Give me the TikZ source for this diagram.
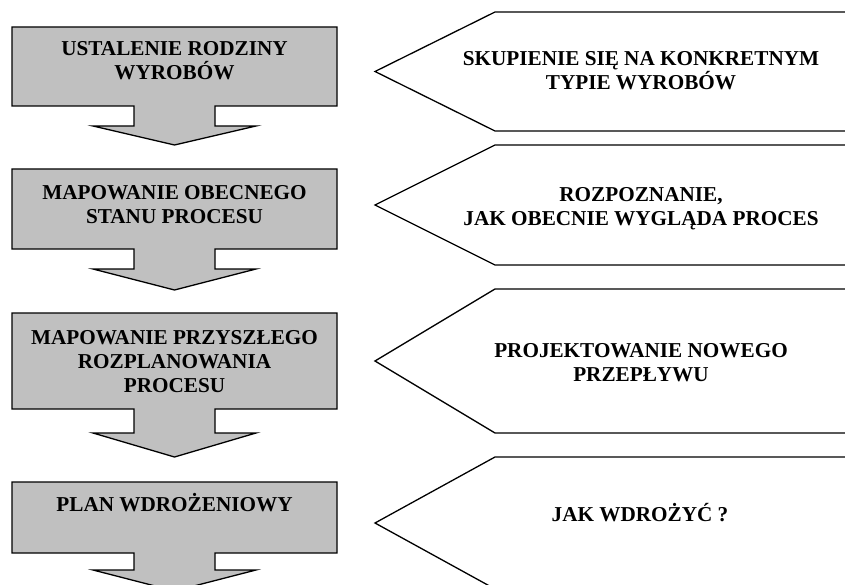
\documentclass[tikz,border=0pt]{standalone}
\usepackage{fontspec}
\setmainfont{Liberation Serif}
\definecolor{boxgray}{RGB}{192,192,192}
\newcommand\stacklines[1]{\vtop{\baselineskip=24pt\lineskiplimit=-100pt\halign{\hfil##\hfil\cr#1\crcr}}}
\begin{document}
\begin{tikzpicture}[x=1pt,y=-1pt,
  stepshape/.style={draw=black, fill=boxgray, line width=1.3pt, line join=miter},
  tagshape/.style={draw=black, fill=white, line width=1.3pt, line join=miter},
  lbl/.style={anchor=base, inner sep=0pt, font=\fontsize{21.2}{24}\selectfont\bfseries}]
\useasboundingbox (0,0) rectangle (845,585);
\clip (0,0) rectangle (845,585);
% left step boxes with down arrows
\foreach \T/\B/\S/\H in {27/106/126/145, 169/249/269/290, 313/409/433/457, 482/553/570/591}{
  \draw[stepshape] (12,\T) -- (337,\T) -- (337,\B) -- (215,\B) -- (215,\S) -- (256,\S)
    -- (174.5,\H) -- (93,\S) -- (134,\S) -- (134,\B) -- (12,\B) -- cycle;
}
% right pointers
\foreach \Tp/\M/\Bt in {12/71.5/131, 145/205/265, 289/361/433, 457/523/589}{
  \draw[tagshape] (375,\M) -- (495,\Tp) -- (900,\Tp) -- (900,\Bt) -- (495,\Bt) -- cycle;
}
% texts in step boxes
\node[lbl] (s1) at (174.5,56) {\stacklines{USTALENIE RODZINY\cr WYROBÓW}};
\node[lbl] (s2) at (174.5,200) {\stacklines{MAPOWANIE OBECNEGO\cr STANU PROCESU}};
\node[lbl] (s3) at (174.5,344) {\stacklines{MAPOWANIE PRZYSZŁEGO\cr ROZPLANOWANIA\cr PROCESU}};
\node[lbl] (s4) at (174.5,511) {PLAN WDROŻENIOWY};
% texts in pointers
\node[lbl] (p1) at (641,66) {\stacklines{SKUPIENIE SIĘ NA KONKRETNYM\cr TYPIE WYROBÓW}};
\node[lbl] (p2) at (641,202) {\stacklines{ROZPOZNANIE,\cr JAK OBECNIE WYGLĄDA PROCES}};
\node[lbl] (p3) at (641,357) {\stacklines{PROJEKTOWANIE NOWEGO\cr PRZEPŁYWU}};
\node[lbl] (p4) at (640,521) {JAK WDROŻYĆ ?};
\end{tikzpicture}
\end{document}
